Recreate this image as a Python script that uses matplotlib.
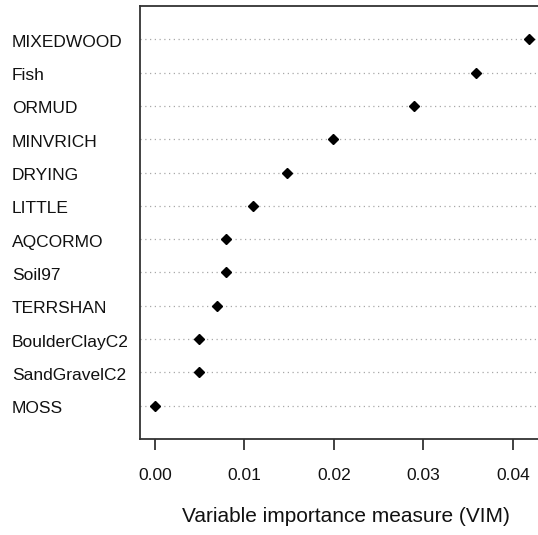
import matplotlib
matplotlib.use("Agg")
import matplotlib.pyplot as plt
from matplotlib.transforms import blended_transform_factory, offset_copy

# variable importance, listed top to bottom
variables = ["MIXEDWOOD", "Fish", "ORMUD", "MINVRICH", "DRYING", "LITTLE",
             "AQCORMO", "Soil97", "TERRSHAN", "BoulderClayC2", "SandGravelC2", "MOSS"]
vim = [0.0418, 0.0359, 0.0289, 0.0199, 0.0148, 0.0109,
       0.0079, 0.0079, 0.0069, 0.0049, 0.0049, 0.0000]
xticks = [0.00, 0.01, 0.02, 0.03, 0.04]

plt.rcParams["font.family"] = ["Liberation Sans", "DejaVu Sans"]
text_col = "#111111"
axis_col = "#333333"

W, H = 538, 535
fig = plt.figure(figsize=(W / 100, H / 100), dpi=100)
# the plot region runs a little past the right edge of the figure
left, right, top, bottom = 140, 544, 6, 439
ax = fig.add_axes([left / W, 1 - bottom / H, (right - left) / W, (bottom - top) / H])

n = len(variables)
ypos = list(range(n, 0, -1))

for y in ypos:
    ax.axhline(y, color="#a8a8a8", lw=0.9, linestyle=(0, (1, 2.8)), zorder=1)
ax.plot(vim, ypos, linestyle="none", marker="D", ms=4.8, color="black", zorder=3)

xmax = max(vim)
ax.set_xlim(-0.04 * xmax, xmax * 1.04)
ax.set_ylim(0, n + 1)

for side in ["left", "top", "bottom"]:
    ax.spines[side].set_color(axis_col)
    ax.spines[side].set_linewidth(1.3)
ax.spines["right"].set_visible(False)

ax.set_yticks([])
ax.set_xticks(xticks)
ax.set_xticklabels([f"{t:.2f}" for t in xticks], fontsize=12.5, color=text_col)
ax.tick_params(axis="x", direction="out", length=8, width=1.3, color=axis_col, pad=13)

# row labels, left aligned at the figure margin, sitting a touch below the dots
trans = blended_transform_factory(fig.transFigure, ax.transData)
trans = offset_copy(trans, fig=fig, y=-3, units="dots")
for name, y in zip(variables, ypos):
    ax.text(12 / W, y, name, transform=trans, ha="left", va="center",
            fontsize=12.5, color=text_col, clip_on=False)

fig.text(346 / W, 1 - 517 / H, "Variable importance measure (VIM)",
         ha="center", va="center", fontsize=15, color=text_col)

fig.savefig("out.png", dpi=100, facecolor="white")
